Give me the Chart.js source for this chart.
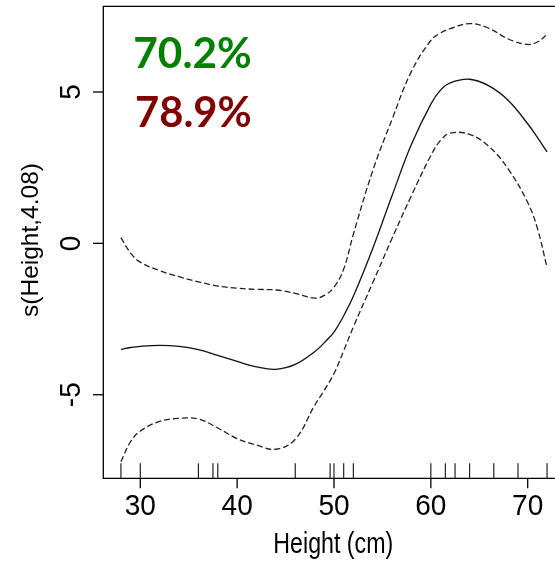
<!DOCTYPE html>
<html>
<head>
<meta charset="utf-8">
<script src="https://cdn.jsdelivr.net/npm/chart.js@4"></script>
<style>
  html, body { margin: 0; padding: 0; background: #fff; overflow: hidden; }
  canvas { display: block; }
</style>
</head>
<body>
<canvas id="c" width="555" height="566"></canvas>
<script>
// ---- data ----
const heights   = [28, 29, 30, 32, 34, 36, 38, 40, 42, 44, 46, 48, 49, 50, 51, 52, 54, 56, 58, 60, 61, 62, 64, 66, 68, 70, 71, 72];
const fitValues = [-3.50, -3.44, -3.40, -3.37, -3.40, -3.51, -3.70, -3.90, -4.08, -4.16, -4.00, -3.58, -3.28, -2.93, -2.39, -1.75, -0.17, 1.58, 3.27, 4.60, 5.06, 5.30, 5.42, 5.20, 4.72, 3.95, 3.50, 3.02];
const upperCI   = [0.19, -0.32, -0.62, -0.90, -1.10, -1.27, -1.41, -1.48, -1.52, -1.54, -1.65, -1.81, -1.72, -1.45, -0.85, 0.30, 2.40, 4.10, 5.68, 6.70, 6.95, 7.09, 7.26, 7.10, 6.75, 6.57, 6.65, 6.90];
const lowerCI   = [-7.21, -6.55, -6.20, -5.88, -5.78, -5.80, -6.10, -6.45, -6.66, -6.80, -6.47, -5.35, -4.85, -4.30, -3.55, -2.76, -1.30, 0.17, 1.58, 2.90, 3.40, 3.64, 3.60, 3.20, 2.45, 1.35, 0.50, -0.80];
const rugHeights = [28, 30, 36, 37.5, 38, 46, 49.6, 50, 51, 52, 60, 61.5, 62.5, 64, 66.5, 69, 72];
const xTickValues = [30, 40, 50, 60, 70];
const yTickValues = [-5, 0, 5];
const xTitle = 'Height (cm)';
const yTitle = 's(Height,4.08)';
const statLabels = ['70.2%', '78.9%'];
const statColors = ['#008000', '#800000'];

const W = 555, H = 566;
const AREA = { left: 103.3, top: 6.3, bottom: 478.3 };

function pts(vals) { return heights.map((h, i) => ({ x: h, y: vals[i] })); }

function drawText(ctx, txt, x, y, o) {
  ctx.save();
  ctx.translate(x, y);
  if (o.rot) ctx.rotate(o.rot);
  ctx.font = o.font;
  let sx = o.sx || 1;
  if (o.width) sx = o.width / ctx.measureText(txt).width;
  ctx.scale(sx, o.sy || 1);
  ctx.fillStyle = o.color || '#000';
  ctx.textAlign = o.align || 'center';
  ctx.textBaseline = 'alphabetic';
  ctx.fillText(txt, 0, 0);
  ctx.restore();
}

const rStyle = {
  id: 'rStyle',
  afterDraw(chart) {
    const { ctx, chartArea: a, scales } = chart;
    const xs = scales.x, ys = scales.y;
    ctx.save();
    ctx.strokeStyle = '#000';
    ctx.lineWidth = 1.3;
    // box (right side lies outside the picture)
    ctx.beginPath();
    ctx.moveTo(W + 5, a.top); ctx.lineTo(a.left, a.top);
    ctx.lineTo(a.left, a.bottom); ctx.lineTo(W + 5, a.bottom);
    ctx.stroke();
    // x ticks + labels
    xTickValues.forEach(v => {
      const px = xs.getPixelForValue(v);
      ctx.beginPath(); ctx.moveTo(px, a.bottom); ctx.lineTo(px, a.bottom + 10); ctx.stroke();
      drawText(ctx, String(v), px, a.bottom + 36.7, { font: '28px "Liberation Sans", Arial, sans-serif', sy: 1.08 });
    });
    // y ticks + labels (rotated like R)
    yTickValues.forEach(v => {
      const py = ys.getPixelForValue(v);
      ctx.beginPath(); ctx.moveTo(a.left - 10.3, py); ctx.lineTo(a.left, py); ctx.stroke();
      drawText(ctx, String(v), a.left - 23.3, py, { font: '28px "Liberation Sans", Arial, sans-serif', rot: -Math.PI / 2, sy: 1.08 });
    });
    // rug
    ctx.lineWidth = 1.2;
    ctx.strokeStyle = '#222';
    rugHeights.forEach(v => {
      const px = xs.getPixelForValue(v);
      ctx.beginPath(); ctx.moveTo(px, a.bottom - 15); ctx.lineTo(px, a.bottom); ctx.stroke();
    });
    // axis titles
    drawText(ctx, xTitle, 333.3, 553.3, { font: '29px "Liberation Sans", Arial, sans-serif', sx: 0.8 });
    drawText(ctx, yTitle, 37.5, 240, { font: '24.5px "Liberation Sans", Arial, sans-serif', rot: -Math.PI / 2 });
    // stat labels
    drawText(ctx, statLabels[0], 133.3, 68.3, { font: 'bold 42px Lato, "Open Sans", sans-serif', align: 'left', width: 118.5, color: statColors[0] });
    drawText(ctx, statLabels[1], 135, 126.7, { font: 'bold 42px Lato, "Open Sans", sans-serif', align: 'left', width: 116.7, color: statColors[1] });
    ctx.restore();
  }
};

const lineStyle = { pointRadius: 0, tension: 0.4, fill: false, borderWidth: 1.3 };

new Chart(document.getElementById('c'), {
  type: 'line',
  data: {
    datasets: [
      Object.assign({ label: 'fit', data: pts(fitValues), borderColor: '#111' }, lineStyle),
      Object.assign({ label: 'upper', data: pts(upperCI), borderColor: '#222', borderDash: [6, 3] }, lineStyle),
      Object.assign({ label: 'lower', data: pts(lowerCI), borderColor: '#222', borderDash: [6, 3] }, lineStyle)
    ]
  },
  options: {
    responsive: false,
    animation: false,
    devicePixelRatio: 1,
    layout: { padding: { left: AREA.left, top: AREA.top, right: 0, bottom: H - AREA.bottom } },
    scales: {
      x: { type: 'linear', min: 26.18, max: 72.82, display: false },
      y: { type: 'linear', min: -7.76, max: 7.83, display: false }
    },
    plugins: { legend: { display: false }, tooltip: { enabled: false } }
  },
  plugins: [rStyle]
});
</script>
</body>
</html>
